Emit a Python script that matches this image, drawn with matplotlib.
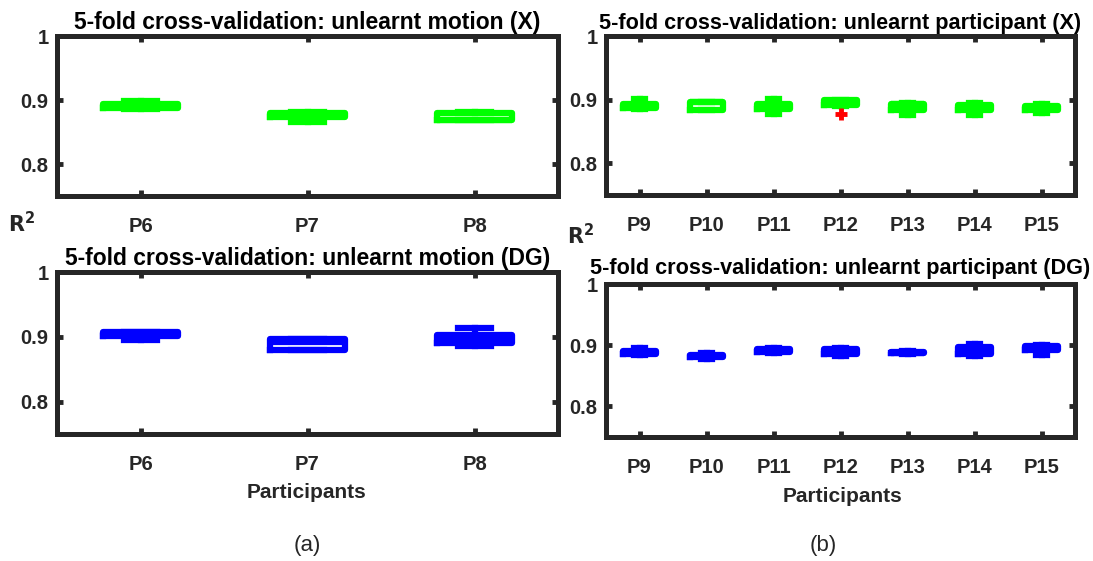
import matplotlib
matplotlib.use("Agg")
import matplotlib.pyplot as plt

plt.rcParams['font.family'] = ['Liberation Sans', 'DejaVu Sans']

# R^2 of the 5-fold cross-validation (box statistics per participant)
motion_labels = ['P6', 'P7', 'P8']
part_labels = ['P9', 'P10', 'P11', 'P12', 'P13', 'P14', 'P15']

# unlearnt motion, X
mx_q1 = [0.887, 0.874, 0.869]
mx_q3 = [0.894, 0.879, 0.880]
mx_med = [0.891, 0.877, 0.869]
mx_lo = [0.886, 0.866, 0.868]
mx_hi = [0.898, 0.881, 0.881]
mx_fl = [[], [], []]

# unlearnt motion, DG
md_q1 = [0.902, 0.880, 0.890]
md_q3 = [0.907, 0.896, 0.903]
md_med = [0.905, 0.8925, 0.896]
md_lo = [0.895, 0.880, 0.886]
md_hi = [0.907, 0.897, 0.914]
md_fl = [[], [], []]

# unlearnt participant, X
px_q1 = [0.887, 0.884, 0.885, 0.892, 0.884, 0.884, 0.883]
px_q3 = [0.893, 0.896, 0.893, 0.900, 0.893, 0.891, 0.890]
px_med = [0.890, 0.896, 0.889, 0.897, 0.893, 0.888, 0.887]
px_lo = [0.886, 0.883, 0.878, 0.890, 0.876, 0.876, 0.879]
px_hi = [0.901, 0.896, 0.901, 0.900, 0.895, 0.895, 0.893]
px_fl = [[], [], [], [0.878], [], [], []]

# unlearnt participant, DG
pd_q1 = [0.886, 0.880, 0.889, 0.885, 0.887, 0.885, 0.892]
pd_q3 = [0.891, 0.884, 0.894, 0.893, 0.889, 0.897, 0.898]
pd_med = [0.889, 0.882, 0.891, 0.889, 0.888, 0.891, 0.895]
pd_lo = [0.884, 0.877, 0.888, 0.882, 0.886, 0.883, 0.884]
pd_hi = [0.895, 0.887, 0.895, 0.895, 0.890, 0.902, 0.901]
pd_fl = [[], [], [], [], [], [], []]

dark = '#262626'
W, H = 1093, 561


def make_stats(q1, q3, med, lo, hi, fl):
    return [dict(q1=a, q3=b, med=m, whislo=l, whishi=h, fliers=f)
            for a, b, m, l, h, f in zip(q1, q3, med, lo, hi, fl)]


def draw(rect, stats, labels, color, title, bw, cw, tsize, tpad):
    x0, y0, x1, y1 = rect
    ax = fig.add_axes([x0 / W, 1 - y1 / H, (x1 - x0) / W, (y1 - y0) / H])
    lw = 4.5
    n = len(labels)
    ax.bxp(stats, positions=range(1, n + 1), widths=bw, capwidths=cw,
           boxprops=dict(color=color, linewidth=lw),
           whiskerprops=dict(color=color, linewidth=lw),
           capprops=dict(color=color, linewidth=lw),
           medianprops=dict(color=color, linewidth=lw),
           flierprops=dict(marker='+', markeredgecolor='red',
                           markersize=8, markeredgewidth=3.5))
    ax.set_xlim(0.5, n + 0.5)
    ax.set_ylim(0.75, 1.0)
    ax.set_yticks([0.8, 0.9, 1.0])
    ax.set_yticklabels(['0.8', '0.9', '1'])
    ax.set_xticks(range(1, n + 1))
    ax.set_xticklabels(labels)
    for s in ax.spines.values():
        s.set_linewidth(3.6)
        s.set_color(dark)
    ax.tick_params(direction='in', length=4, width=3.5, color=dark,
                   top=True, right=True, labelsize=14.5, labelcolor=dark)
    ax.tick_params(axis='x', pad=15)
    ax.tick_params(axis='y', pad=6)
    for t in ax.get_xticklabels() + ax.get_yticklabels():
        t.set_fontweight('bold')
    ax.set_title(title, fontsize=tsize, fontweight='bold', color='black', pad=tpad)
    return ax


fig = plt.figure(figsize=(W / 100, H / 100), dpi=100)

draw((57, 36, 558, 196), make_stats(mx_q1, mx_q3, mx_med, mx_lo, mx_hi, mx_fl),
     motion_labels, '#00ff00', '5-fold cross-validation: unlearnt motion (X)',
     0.45, 0.2, 16.5, 5)
draw((606, 36, 1075, 195), make_stats(px_q1, px_q3, px_med, px_lo, px_hi, px_fl),
     part_labels, '#00ff00', '5-fold cross-validation: unlearnt participant (X)',
     0.5, 0.15, 15.6, 5)
draw((57, 272, 558, 434), make_stats(md_q1, md_q3, md_med, md_lo, md_hi, md_fl),
     motion_labels, '#0000ff', '5-fold cross-validation: unlearnt motion (DG)',
     0.45, 0.2, 16.5, 5)
draw((606, 284, 1075, 437), make_stats(pd_q1, pd_q3, pd_med, pd_lo, pd_hi, pd_fl),
     part_labels, '#0000ff', '5-fold cross-validation: unlearnt participant (DG)',
     0.5, 0.15, 15.6, 7)

# shared labels
fig.text(22 / W, 1 - 224 / H, r'$\mathbf{R^2}$', ha='center', va='center',
         fontsize=15, color=dark)
fig.text(581 / W, 1 - 236 / H, r'$\mathbf{R^2}$', ha='center', va='center',
         fontsize=15, color=dark)
fig.text(307 / W, 1 - 493 / H, 'Participants', ha='center', va='center',
         fontsize=15, fontweight='bold', color=dark)
fig.text(842 / W, 1 - 497 / H, 'Participants', ha='center', va='center',
         fontsize=15, fontweight='bold', color=dark)
fig.text(307 / W, 1 - 545 / H, '(a)', ha='center', va='center',
         fontsize=16, color=dark)
fig.text(823 / W, 1 - 545 / H, '(b)', ha='center', va='center',
         fontsize=16, color=dark)

fig.savefig('out.png', dpi=100)
